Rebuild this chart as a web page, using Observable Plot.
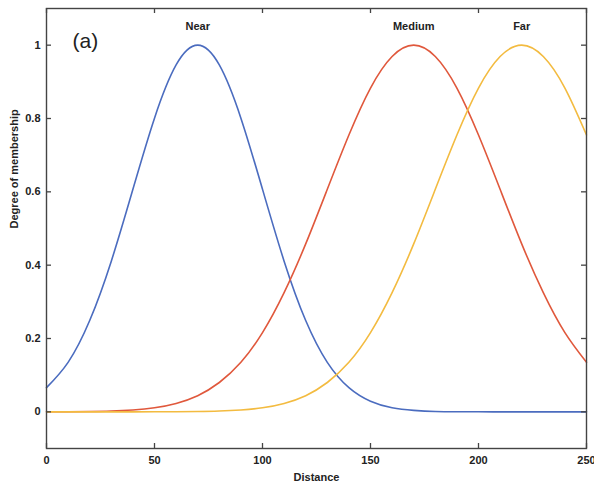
<!DOCTYPE html>
<html>
<head>
<meta charset="utf-8">
<script src="https://cdn.jsdelivr.net/npm/d3@7"></script>
<script src="https://cdn.jsdelivr.net/npm/@observablehq/plot@0.6"></script>
<style>
  html, body { margin: 0; padding: 0; background: #fff; }
  #chart svg { display: block; }
</style>
</head>
<body>
<div id="chart"></div>
<script>
const distance = [0, 10, 20, 30, 40, 50, 60, 70, 80, 90, 100, 110, 120, 130, 140, 150, 160, 170, 180, 190, 200, 210, 220, 230, 240, 250];
const near   = [0.066, 0.135, 0.249, 0.411, 0.607, 0.801, 0.946, 1.0, 0.946, 0.801, 0.607, 0.411, 0.249, 0.135, 0.066, 0.029, 0.011, 0.004, 0.001, 0.0003, 0.0001, 0, 0, 0, 0, 0];
const medium = [0.0001, 0.0003, 0.0009, 0.0022, 0.0051, 0.011, 0.023, 0.044, 0.080, 0.135, 0.216, 0.325, 0.458, 0.607, 0.755, 0.883, 0.969, 1.0, 0.969, 0.883, 0.755, 0.607, 0.458, 0.325, 0.216, 0.135];
const far    = [0, 0, 0, 0, 0, 0.0001, 0.0003, 0.0009, 0.0022, 0.0051, 0.011, 0.023, 0.044, 0.080, 0.135, 0.216, 0.325, 0.458, 0.607, 0.755, 0.883, 0.969, 1.0, 0.969, 0.883, 0.755];
const seriesNames = ["Near", "Medium", "Far"];
const seriesColors = ["#4b6cbf", "#e0583c", "#f3bb40"];
const xTicks = [0, 50, 100, 150, 200, 250];
const yTicks = [0, 0.2, 0.4, 0.6, 0.8, 1];
const xLabel = "Distance";
const yLabel = "Degree of membership";
const panelLabel = "(a)";

const seriesValues = [near, medium, far];
const rows = seriesNames.flatMap((s, i) => distance.map((d, j) => ({s, d, v: seriesValues[i][j]})));
const peaks = seriesNames.map((s, i) => {
  const vals = seriesValues[i];
  const j = vals.indexOf(Math.max(...vals));
  return {s, d: distance[j], v: vals[j]};
});

const W = 594, H = 489, ML = 46, MR = 8, MT = 8, MB = 41;
const fw = W - ML - MR, fh = H - MT - MB, tl = 5;
const axisColor = "#444";
const font = "'Liberation Sans', Arial, sans-serif";

const chart = Plot.plot({
  width: W, height: H,
  marginLeft: ML, marginRight: MR, marginTop: MT, marginBottom: MB,
  style: {fontFamily: font, fontSize: "11px", color: "#222", background: "#fff", overflow: "visible"},
  x: {domain: [0, 250]},
  y: {domain: [-0.1, 1.1]},
  color: {domain: seriesNames, range: seriesColors},
  marks: [
    Plot.line(rows, {x: "d", y: "v", stroke: "s", z: "s", curve: "natural", strokeWidth: 1.6}),
    Plot.frame({stroke: axisColor, strokeWidth: 1.4}),
    Plot.tickX(xTicks, {x: d => d, insetTop: fh - tl, stroke: axisColor, strokeWidth: 1.3}),
    Plot.tickX(xTicks, {x: d => d, insetBottom: fh - tl, stroke: axisColor, strokeWidth: 1.3}),
    Plot.tickY(yTicks, {y: d => d, insetRight: fw - tl, stroke: axisColor, strokeWidth: 1.3}),
    Plot.tickY(yTicks, {y: d => d, insetLeft: fw - tl, stroke: axisColor, strokeWidth: 1.3}),
    Plot.axisX({ticks: xTicks, tickSize: 0, tickPadding: 8, label: null, fontWeight: "bold", fill: "#222", tickFormat: d => String(d)}),
    Plot.axisY({ticks: yTicks, tickSize: 0, tickPadding: 6, label: null, fontWeight: "bold", fill: "#222", tickFormat: d => String(d)}),
    Plot.text(peaks, {x: "d", y: 1.05, text: "s", fontWeight: "bold", fontSize: 11, fill: "#222"}),
    Plot.text([xLabel], {frameAnchor: "bottom", dy: 32, fontWeight: "bold", fontSize: 11, fill: "#222"}),
    Plot.text([yLabel], {frameAnchor: "left", dx: -32, rotate: -90, fontWeight: "bold", fontSize: 11, fill: "#222"}),
    Plot.text([panelLabel], {frameAnchor: "top-left", dx: 26, dy: 25, fontSize: 21, fill: "#222"})
  ]
});
document.getElementById("chart").append(chart);
</script>
</body>
</html>
